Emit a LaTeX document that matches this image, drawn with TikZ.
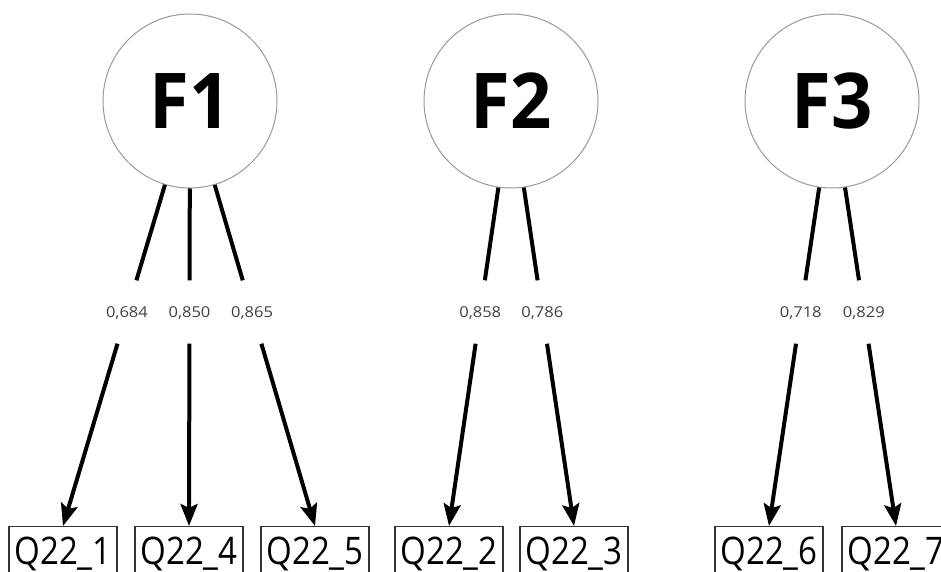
\documentclass[tikz,border=0pt]{standalone}
\usepackage{fontspec}
\setmainfont{Open Sans}
\newfontfamily\itemfont[FakeStretch=0.87]{Open Sans}
\newfontfamily\factorfont[FakeStretch=0.94]{Open Sans}
\newfontfamily\loadfont[FakeStretch=1.1]{Open Sans}
\usetikzlibrary{calc,arrows.meta}

\begin{document}
\begin{tikzpicture}[x=1pt,y=-1pt,
  factor/.style={circle,draw=black!40,line width=1pt,minimum size=174pt,
    inner sep=0pt,font=\factorfont\fontsize{77}{80}\selectfont\bfseries},
  item/.style={draw=black!80,line width=1.2pt,minimum width=108pt,
    text height=27pt,text depth=8pt,inner ysep=11pt,inner xsep=0pt,
    anchor=north,font=\itemfont\fontsize{38}{40}\selectfont},
  loading/.style={inner sep=0pt,minimum height=63pt,text height=10.5pt,
    text depth=0pt,text=black!75,font=\loadfont\fontsize{15}{17}\selectfont},
  link/.style={line width=4pt,black},
  arr/.style={link,-{Stealth[length=22pt,width=17pt,inset=4pt]}}
]
\useasboundingbox (0,0) rectangle (941,572);

% latent factors
\node[factor] (F1) at (190,101) {F1};
\node[factor] (F2) at (511,101) {F2};
\node[factor] (F3) at (832,101) {F3};

% observed items
\node[item] (Q1) at (63,526)  {Q22\_1};
\node[item] (Q4) at (189,526) {Q22\_4};
\node[item] (Q5) at (315,526) {Q22\_5};
\node[item] (Q2) at (449,526) {Q22\_2};
\node[item] (Q3) at (574,526) {Q22\_3};
\node[item] (Q6) at (769,526) {Q22\_6};
\node[item] (Q7) at (896,526) {Q22\_7};

% loadings, each label sitting in a gap of its arrow
\foreach \f/\q/\v [count=\i] in {F1/Q1/{0,684},F1/Q4/{0,850},F1/Q5/{0,865},
                                  F2/Q2/{0,858},F2/Q3/{0,786},
                                  F3/Q6/{0,718},F3/Q7/{0,829}}{
  \node[loading] (L\i) at ($(\f)!0.4965!(\q.north)$) {\v};
  \draw[link] (\f) -- (L\i);
  \draw[arr] (L\i) -- (\q.north);
}
\end{tikzpicture}
\end{document}
